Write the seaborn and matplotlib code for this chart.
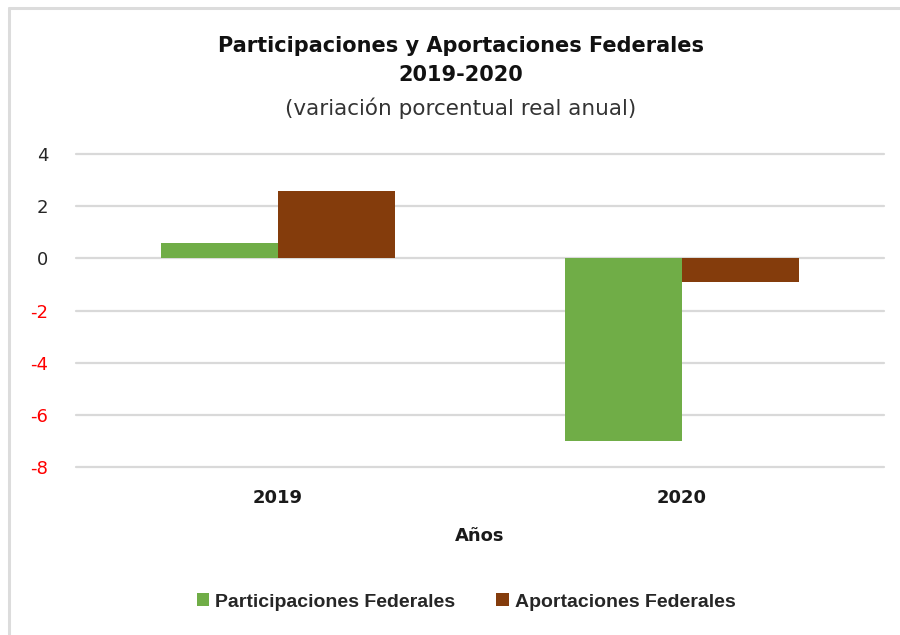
import pandas as pd
import matplotlib.pyplot as plt
import seaborn as sns

# data
years = ["2019", "2020"]
participaciones = [0.6, -7.0]
aportaciones = [2.6, -0.9]
series_names = ["Participaciones Federales", "Aportaciones Federales"]
colors = ["#70ad47", "#843c0c"]
y_ticks = [4, 2, 0, -2, -4, -6, -8]

df = pd.DataFrame({
    "Año": years * 2,
    "valor": participaciones + aportaciones,
    "serie": [series_names[0]] * 2 + [series_names[1]] * 2,
})

sns.set_style("white")
plt.rcParams["font.family"] = ["DejaVu Sans"]
plt.rcParams["axes.unicode_minus"] = False

fig = plt.figure(figsize=(9, 6.35), dpi=100)
ax = fig.add_axes([76 / 900, 1 - 467 / 635, 808 / 900, (467 - 154) / 635])

sns.barplot(data=df, x="Año", y="valor", hue="serie", palette=colors,
            width=0.58, ax=ax, saturation=1, edgecolor="none")

ax.set_ylim(-8, 4)
ax.set_yticks(y_ticks)
ax.yaxis.grid(True, color="#d9d9d9", linewidth=1.6)
ax.set_axisbelow(True)
# keep the top and bottom gridlines at full width
for gl in ax.get_ygridlines():
    gl.set_clip_on(False)
for s in ax.spines.values():
    s.set_visible(False)
ax.tick_params(axis="both", length=0)
ax.tick_params(axis="y", pad=20)
ax.tick_params(axis="x", pad=16)

for lbl, val in zip(ax.get_yticklabels(), y_ticks):
    lbl.set_fontsize(13)
    lbl.set_color("#ff0000" if val < 0 else "#262626")
for lbl in ax.get_xticklabels():
    lbl.set_fontsize(13)
    lbl.set_fontweight("bold")
    lbl.set_color("#1a1a1a")

ax.set_ylabel("")
ax.set_xlabel("Años", fontsize=13, fontweight="bold", color="#1a1a1a", labelpad=14)

handles, labels = ax.get_legend_handles_labels()
ax.legend_.remove()
fig.legend(handles, labels, loc="center", bbox_to_anchor=(466 / 900, 1 - 602 / 635),
           ncol=2, frameon=False, handlelength=0.65, handleheight=0.65,
           handletextpad=0.3, columnspacing=2.1,
           prop={"family": ["Liberation Sans", "DejaVu Sans"], "weight": "bold", "size": 14})

fig.text(461 / 900, 1 - 46 / 635, "Participaciones y Aportaciones Federales",
         ha="center", va="center", fontsize=15, fontweight="bold", color="#111111")
fig.text(461 / 900, 1 - 75 / 635, "2019-2020",
         ha="center", va="center", fontsize=15, fontweight="bold", color="#111111")
fig.text(461 / 900, 1 - 108 / 635, "(variación porcentual real anual)",
         ha="center", va="center", fontsize=15.5, color="#333333")

# light frame on top and left like the original screenshot
fig.add_artist(plt.Line2D([9 / 900, 1], [1 - 8 / 635, 1 - 8 / 635], color="#dcdcdc", linewidth=2.2))
fig.add_artist(plt.Line2D([9 / 900, 9 / 900], [0, 1 - 8 / 635], color="#dcdcdc", linewidth=2.2))

plt.savefig("out.png", dpi=100)
